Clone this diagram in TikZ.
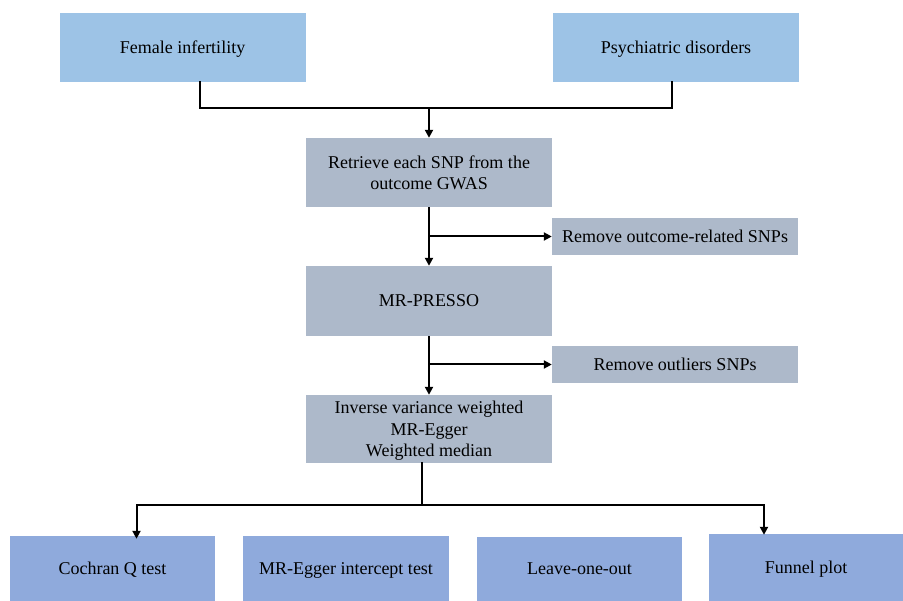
\documentclass[tikz,border=0pt]{standalone}
\usepackage{fontspec}
\setmainfont{Liberation Serif}
\usetikzlibrary{arrows.meta,calc}
\definecolor{topblue}{HTML}{9DC3E6}
\definecolor{midgray}{HTML}{ADB9CA}
\definecolor{botblue}{HTML}{8FAADC}
\begin{document}
\begin{tikzpicture}[x=1pt,y=-1pt,
  box/.style={draw=none,inner sep=0pt,align=center,text depth=0pt,font=\fontsize{18}{21.5}\selectfont,text=black},
  topbox/.style={box,fill=topblue,minimum width=246pt,minimum height=69pt},
  graybox/.style={box,fill=midgray,minimum width=246pt,minimum height=69pt},
  sidebox/.style={box,fill=midgray,minimum width=246pt,minimum height=37pt},
  botbox/.style={box,fill=botblue,minimum width=205pt,minimum height=65pt},
  conn/.style={line width=2pt,line cap=rect},
  arr/.style={line width=2pt,-{Triangle[length=8pt,width=8pt]}}]
\useasboundingbox (0,0) rectangle (903,601);
\node[topbox] (fem) at (182.5,47.5) {Female infertility};
\node[topbox] (psy) at (676,47.5) {Psychiatric disorders};
\node[graybox] (ret) at (429,172.5) {Retrieve each SNP from the\\outcome GWAS};
\node[sidebox] (rem1) at (675,236.5) {Remove outcome-related SNPs};
\node[graybox,minimum height=70pt] (presso) at (429,301) {MR-PRESSO};
\node[sidebox] (rem2) at (675,364.5) {Remove outliers SNPs};
\node[graybox,minimum height=68pt] (ivw) at (429,429) {Inverse variance weighted\\MR-Egger\\Weighted median};
\node[botbox] (coch) at (112.5,568.5) {Cochran Q test};
\node[botbox,minimum width=206pt] (egg) at (346,568.5) {MR-Egger intercept test};
\node[botbox,minimum height=64pt] (loo) at (579.5,569) {Leave-one-out};
\node[botbox,minimum width=194pt,minimum height=67pt] (fun) at (806,567.5) {Funnel plot};
\coordinate (join) at (429,108);
\coordinate (split) at (422,505);
\draw[conn] ([xshift=17.5pt]fem.south) |- (join) -| ([xshift=-4pt]psy.south);
\draw[arr] (join) -- (ret.north);
\draw[arr] (ret.south) -- (presso.north);
\draw[arr] (ret.south |- rem1.west) -- (rem1.west);
\draw[arr] (presso.south) -- (ivw.north);
\draw[arr] (presso.south |- rem2.west) -- (rem2.west);
\draw[conn] ([xshift=-7pt]ivw.south) -- (split);
\draw[arr] (split) -| ([xshift=24pt,yshift=-3pt]coch.north);
\draw[arr] (split) -| ([xshift=-42pt,yshift=-1pt]fun.north);
\end{tikzpicture}
\end{document}
